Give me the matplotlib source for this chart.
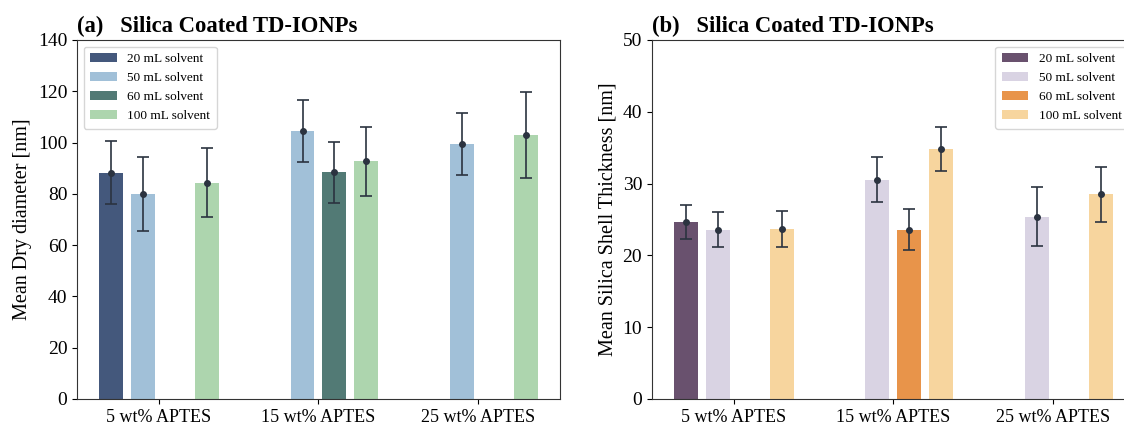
import matplotlib.pyplot as plt
import numpy as np

plt.rcParams['font.family'] = ['Liberation Serif', 'DejaVu Serif']

groups = ['5 wt% APTES', '15 wt% APTES', '25 wt% APTES']
solvents = ['20 mL solvent', '50 mL solvent', '60 mL solvent', '100 mL solvent']

# (a) mean dry diameter [nm], nan = not measured
dry_20 = [88.2, np.nan, np.nan]
dry_50 = [80.0, 104.5, 99.4]
dry_60 = [np.nan, 88.4, np.nan]
dry_100 = [84.3, 92.7, 102.9]
dry_20_err = [12.3, np.nan, np.nan]
dry_50_err = [14.5, 12.0, 12.1]
dry_60_err = [np.nan, 12.0, np.nan]
dry_100_err = [13.5, 13.4, 16.7]

# (b) mean silica shell thickness [nm]
sh_20 = [24.65, np.nan, np.nan]
sh_50 = [23.6, 30.55, 25.4]
sh_60 = [np.nan, 23.6, np.nan]
sh_100 = [23.65, 34.85, 28.5]
sh_20_err = [2.35, np.nan, np.nan]
sh_50_err = [2.5, 3.1, 4.1]
sh_60_err = [np.nan, 2.9, np.nan]
sh_100_err = [2.5, 3.1, 3.85]

colors_a = ['#44587c', '#a1c0d8', '#527a75', '#add5ae']
colors_b = ['#69516e', '#d9d3e3', '#e8944a', '#f7d59e']

fig = plt.figure(figsize=(11.24, 4.25), dpi=100)
ax1 = fig.add_axes([0.0685, 0.0612, 0.4297, 0.8447])
ax2 = fig.add_axes([0.5800, 0.0612, 0.4297, 0.8447])

x = np.arange(len(groups))
offsets = [-0.3, -0.1, 0.1, 0.3]
width = 0.15


def draw(ax, vals, errs, colors, ylim, ylabel, title, legend_loc):
    for v, e, c, off, lab in zip(vals, errs, colors, offsets, solvents):
        ax.bar(x + off, v, width, color=c, label=lab)
        ax.errorbar(x + off, v, yerr=e, fmt='o', color='#2b3340', ms=4,
                    capsize=4, elinewidth=1.2, capthick=1.2)
    ax.set_xlim(-0.514, 2.514)
    ax.set_ylim(*ylim)
    ax.set_xticks(x)
    ax.set_xticklabels(groups, fontsize=13)
    ax.tick_params(axis='y', labelsize=14)
    ax.set_ylabel(ylabel, fontsize=14.5)
    ax.set_title(title, loc='left', fontweight='bold', fontsize=16.3, pad=6)
    for sp in ax.spines.values():
        sp.set_color('#333333')
    ax.legend(loc=legend_loc, fontsize=9.5, handlelength=2.0,
              borderpad=0.5, labelspacing=0.5, handletextpad=0.8)


draw(ax1, [dry_20, dry_50, dry_60, dry_100],
     [dry_20_err, dry_50_err, dry_60_err, dry_100_err], colors_a,
     (0, 140), 'Mean Dry diameter [nm]', '(a)   Silica Coated TD-IONPs',
     'upper left')
draw(ax2, [sh_20, sh_50, sh_60, sh_100],
     [sh_20_err, sh_50_err, sh_60_err, sh_100_err], colors_b,
     (0, 50), 'Mean Silica Shell Thickness [nm]', '(b)   Silica Coated TD-IONPs',
     'upper right')

fig.savefig('out.png', dpi=100)
